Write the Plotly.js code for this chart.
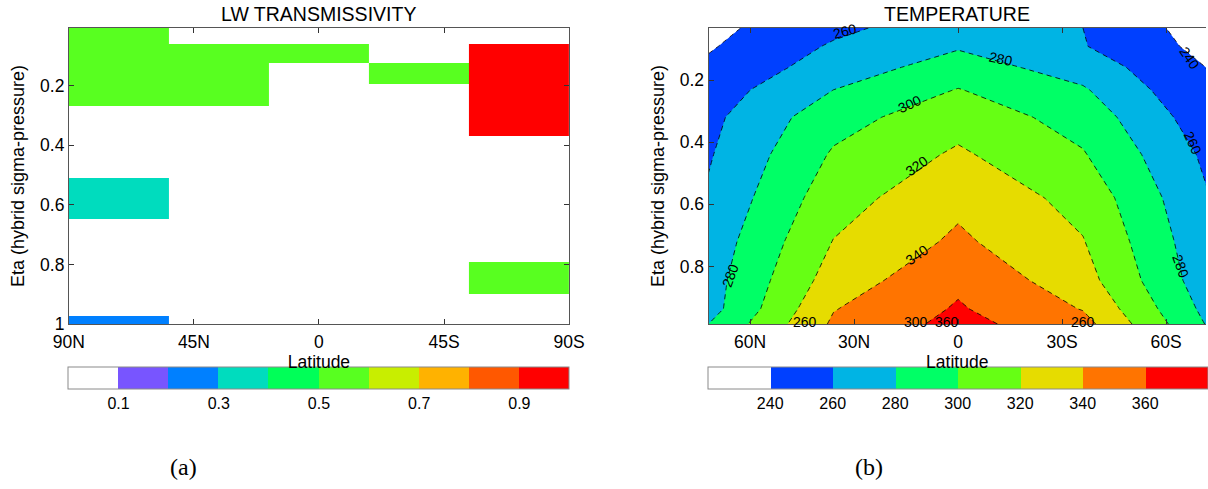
<!DOCTYPE html>
<html><head><meta charset="utf-8">
<script src="https://cdn.plot.ly/plotly-3.0.1.min.js"></script>
<style>html,body{margin:0;padding:0;background:#fff;}#chart{width:1208px;height:489px;}</style>
</head><body><div id="chart"></div>
<script>
// ---------- LW transmissivity (panel a) ----------
const lwLatEdges = [90, 54, 18, -18, -54, -90];
const lwEtaEdges = [0.006, 0.059, 0.124, 0.194, 0.269, 0.370, 0.509, 0.649, 0.791, 0.899, 0.973, 1.0];
const lwTrans = [
  [0.55, 0.05, 0.05, 0.05, 0.05],
  [0.55, 0.55, 0.55, 0.05, 0.95],
  [0.55, 0.55, 0.05, 0.55, 0.95],
  [0.55, 0.55, 0.05, 0.05, 0.95],
  [0.05, 0.05, 0.05, 0.05, 0.95],
  [0.05, 0.05, 0.05, 0.05, 0.05],
  [0.35, 0.05, 0.05, 0.05, 0.05],
  [0.05, 0.05, 0.05, 0.05, 0.05],
  [0.05, 0.05, 0.05, 0.05, 0.55],
  [0.05, 0.05, 0.05, 0.05, 0.05],
  [0.25, 0.05, 0.05, 0.05, 0.05]
];
const lwLevels = [0, 0.1, 0.2, 0.3, 0.4, 0.5, 0.6, 0.7, 0.8, 0.9, 1.0];
const lwColors = ['#ffffff', '#7855ff', '#0080ff', '#00dcbe', '#00ff58', '#58ff20', '#c8ee00', '#ffb200', '#ff5800', '#ff0000'];
const lwTickVals = [0.1, 0.3, 0.5, 0.7, 0.9];
const lwTickText = ['0.1', '0.3', '0.5', '0.7', '0.9'];
const latTickValsA = [90, 45, 0, -45, -90];
const latTickTextA = ['90N', '45N', '0', '45S', '90S'];
const etaTickValsA = [0.2, 0.4, 0.6, 0.8, 1];
const etaTickTextA = ['0.2', '0.4', '0.6', '0.8', '1'];

// ---------- Temperature (panel b) ----------
const tLat = [72, 36, 0, -36, -72];
const tEta = [0.0325, 0.0915, 0.159, 0.2315, 0.3195, 0.4395, 0.579, 0.72, 0.845, 0.936, 0.985];
const temperature = [
  [234.7, 255.3, 272.0, 260.0, 230.0],
  [238.1, 262.3, 278.0, 261.1, 233.9],
  [243.5, 269.2, 289.0, 270.9, 239.5],
  [249.9, 280.0, 300.8, 282.2, 241.5],
  [254.9, 292.4, 312.0, 292.0, 248.0],
  [258.2, 302.2, 322.9, 301.5, 255.8],
  [262.5, 311.5, 335.0, 313.3, 261.0],
  [268.0, 320.6, 343.5, 321.0, 265.0],
  [271.4, 329.1, 356.0, 328.1, 268.1],
  [272.0, 339.0, 362.0, 339.0, 274.0],
  [280.0, 343.0, 366.0, 347.0, 278.3]
];
const tColors = ['#ffffff', '#0040ff', '#00b4e4', '#00ff66', '#66ff14', '#e6dc00', '#ff7400', '#ff0000'];
const tTickVals = [240, 260, 280, 300, 320, 340, 360];
const latTickValsB = [60, 30, 0, -30, -60];
const latTickTextB = ['60N', '30N', '0', '30S', '60S'];
const etaTickValsB = [0.2, 0.4, 0.6, 0.8];
// contour line labels as printed on the reference
const tLabelText  = ['260', '280', '240', '300', '260', '320', '280', '340', '280', '260', '300', '360', '260'];
const tLabelLat   = [32.6, -12.5, -66.8, 13.9, -67.7, 12.0, 65.7, 12.0, -64.4, 44.3, 12.2, 3.3, -36.1];
const tLabelEta   = [0.042, 0.131, 0.128, 0.278, 0.402, 0.477, 0.827, 0.762, 0.800, 0.977, 0.977, 0.977, 0.977];
const tLabelAngle = [-15, 12, 55, -25, 65, -35, -70, -35, 70, 0, 0, 0, 0];

// ---------- build ----------
const W = 1208, H = 489;
const FONT = 'Liberation Sans, Arial, Helvetica, sans-serif';

const lwScale = [];
for (let i = 0; i < lwColors.length; i++) {
  lwScale.push([lwLevels[i], lwColors[i]]);
  lwScale.push([lwLevels[i + 1], lwColors[i]]);
}
const tScale = tColors.map((c, i) => [i / (tColors.length - 1), c]);

const heat = {
  type: 'heatmap', x: lwLatEdges, y: lwEtaEdges, z: lwTrans,
  xaxis: 'x', yaxis: 'y', zmin: 0, zmax: 1, colorscale: lwScale, zsmooth: false,
  hoverinfo: 'skip',
  colorbar: {
    orientation: 'h', x: 319.5 / W, xanchor: 'center', y: 1 - 366.5 / H, yanchor: 'top',
    len: 501, lenmode: 'pixels', thickness: 22, thicknessmode: 'pixels',
    xpad: 0, ypad: 0, outlinecolor: '#8a8a8a', outlinewidth: 1,
    tickvals: lwTickVals, ticktext: lwTickText, ticks: '',
    tickfont: {family: FONT, size: 16, color: '#000'}
  }
};

// filled bands (with colour bar), no lines
const contFill = {
  type: 'contour', x: tLat, y: tEta, z: temperature,
  xaxis: 'x2', yaxis: 'y2', zmin: 220, zmax: 380, autocontour: false,
  contours: {start: 240, end: 360, size: 20, coloring: 'fill', showlines: false},
  line: {width: 0, smoothing: 0},
  colorscale: tScale, hoverinfo: 'skip',
  colorbar: {
    orientation: 'h', x: 959.3 / W, xanchor: 'center', y: 1 - 366.5 / H, yanchor: 'top',
    len: 500, lenmode: 'pixels', thickness: 22, thicknessmode: 'pixels',
    xpad: 0, ypad: 0, outlinecolor: '#8a8a8a', outlinewidth: 1,
    tickvals: tTickVals, ticks: '',
    tickfont: {family: FONT, size: 16, color: '#000'}
  }
};
// dashed contour lines on top
const contLines = {
  type: 'contour', x: tLat, y: tEta, z: temperature,
  xaxis: 'x2', yaxis: 'y2', autocontour: false, showscale: false,
  contours: {start: 240, end: 360, size: 20, coloring: 'none', showlines: true},
  line: {color: '#000', width: 0.8, dash: '5px,4px', smoothing: 0},
  hoverinfo: 'skip'
};

const yTop = 1 - 28 / H, yBot = 1 - 324 / H;
const axCommon = {
  ticks: 'inside', ticklen: 5, tickcolor: '#333', showline: true, linecolor: '#555', linewidth: 1,
  showgrid: false, zeroline: false, tickfont: {family: FONT, size: 17.5, color: '#000'}, fixedrange: true
};

const annotations = [
  {text: 'LW TRANSMISSIVITY', x: 319.5 / W, y: 1 - 14 / H},
  {text: 'TEMPERATURE', x: 959 / W, y: 1 - 14 / H}
].map(a => Object.assign(a, {xref: 'paper', yref: 'paper', showarrow: false, xanchor: 'center', yanchor: 'middle',
  font: {family: FONT, size: 19.5, color: '#000'}}));

annotations.push({text: '(a)', x: 184 / W, y: 1 - 467 / H, xref: 'paper', yref: 'paper', showarrow: false,
  xanchor: 'center', yanchor: 'middle', font: {family: 'Liberation Serif, Times New Roman, serif', size: 24, color: '#000'}});
annotations.push({text: '(b)', x: 870 / W, y: 1 - 467 / H, xref: 'paper', yref: 'paper', showarrow: false,
  xanchor: 'center', yanchor: 'middle', font: {family: 'Liberation Serif, Times New Roman, serif', size: 24, color: '#000'}});

for (let i = 0; i < tLabelText.length; i++) {
  annotations.push({text: tLabelText[i], x: tLabelLat[i], y: tLabelEta[i], xref: 'x2', yref: 'y2',
    showarrow: false, textangle: tLabelAngle[i], xanchor: 'center', yanchor: 'middle',
    font: {family: FONT, size: 14, color: '#000'}});
}

const layout = {
  width: W, height: H, margin: {l: 0, r: 0, t: 0, b: 0},
  paper_bgcolor: '#fff', plot_bgcolor: '#fff', showlegend: false,
  font: {family: FONT, color: '#000'},
  xaxis: Object.assign({}, axCommon, {
    domain: [69 / W, 570 / W], range: [90, -90], anchor: 'y', mirror: 'ticks',
    tickvals: latTickValsA, ticktext: latTickTextA, ticklabelstandoff: 2,
    title: {text: 'Latitude', standoff: 0, font: {family: FONT, size: 17.5, color: '#000'}}
  }),
  yaxis: Object.assign({}, axCommon, {
    domain: [yBot, yTop], range: [1.0, 0.006], anchor: 'x', mirror: 'ticks',
    tickvals: etaTickValsA, ticktext: etaTickTextA,
    title: {text: 'Eta (hybrid sigma-pressure)', standoff: 10, font: {family: FONT, size: 18, color: '#000'}}
  }),
  xaxis2: Object.assign({}, axCommon, {
    domain: [709.7 / W, 1], range: [72, -71.5], anchor: 'y2', mirror: 'ticks',
    tickvals: latTickValsB, ticktext: latTickTextB, ticklabelstandoff: 2,
    title: {text: 'Latitude', standoff: 0, font: {family: FONT, size: 17.5, color: '#000'}}
  }),
  yaxis2: Object.assign({}, axCommon, {
    domain: [yBot, yTop], range: [0.985, 0.0325], anchor: 'x2', mirror: false,
    tickvals: etaTickValsB,
    title: {text: 'Eta (hybrid sigma-pressure)', standoff: 10, font: {family: FONT, size: 18, color: '#000'}}
  }),
  annotations: annotations
};

Plotly.newPlot('chart', [heat, contFill, contLines], layout, {displayModeBar: false, staticPlot: true});
</script></body></html>
